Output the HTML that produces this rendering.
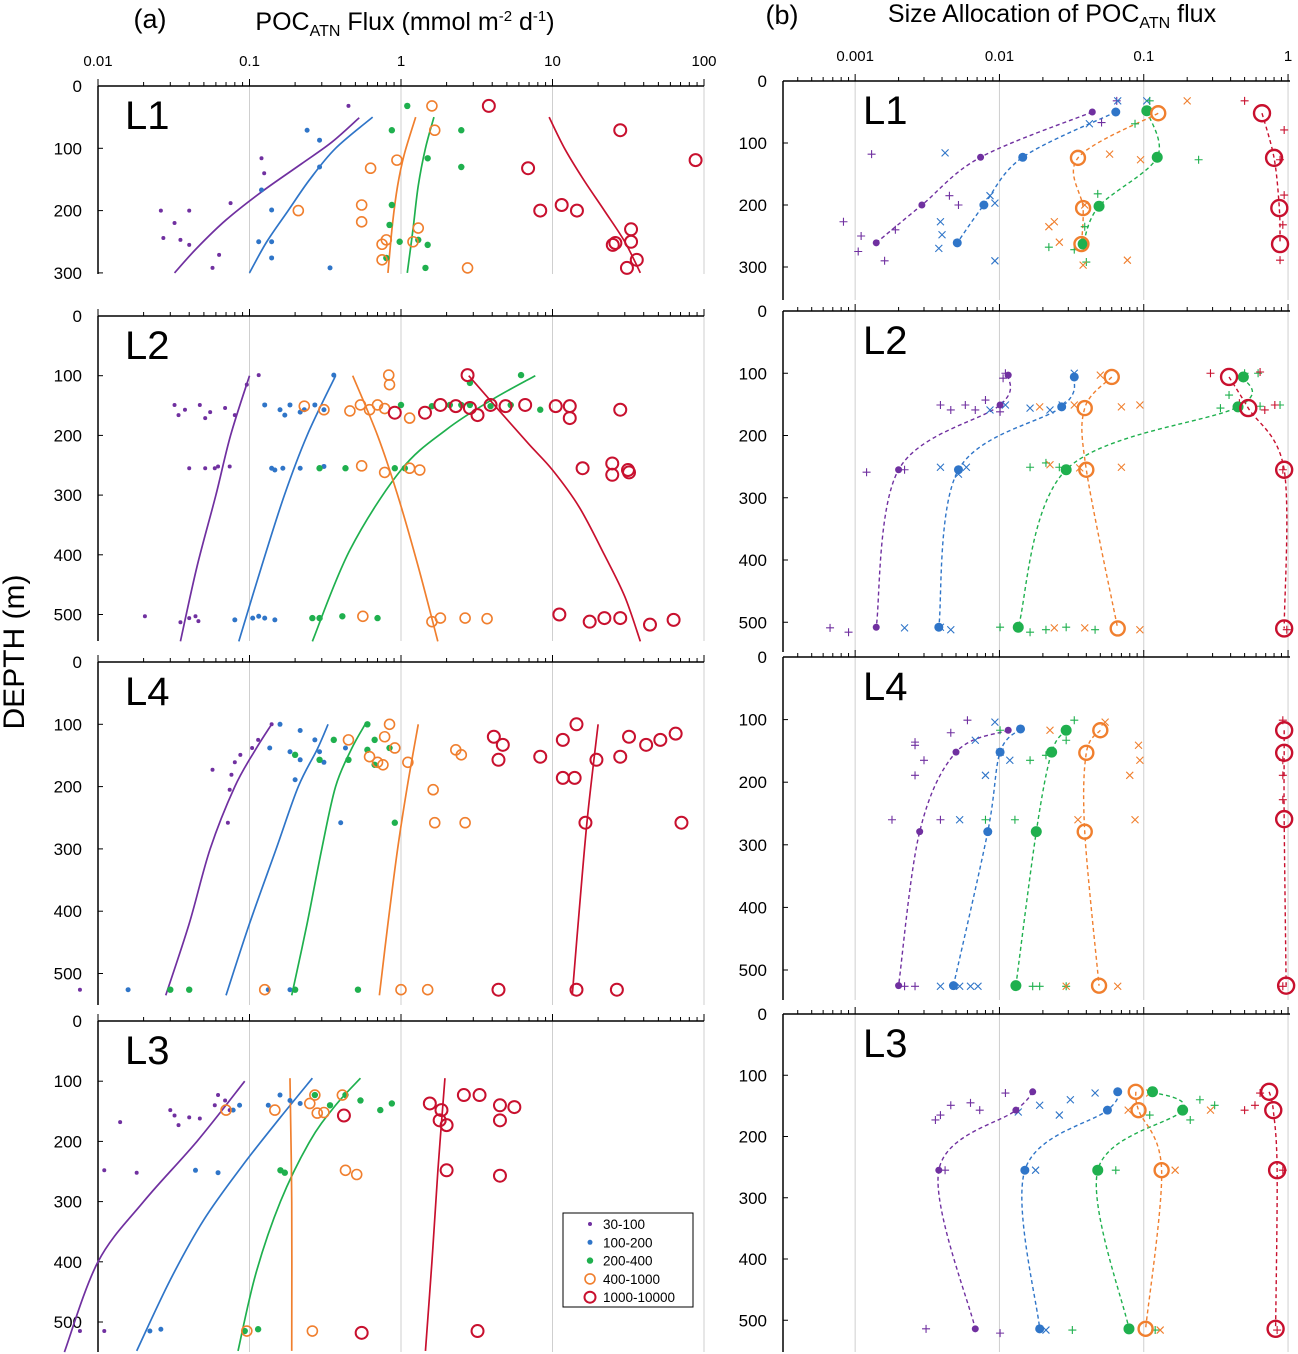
<!DOCTYPE html>
<html><head><meta charset="utf-8">
<style>
html,body{margin:0;padding:0;background:#fff;}
svg{display:block;font-family:"Liberation Sans",sans-serif;}
</style></head>
<body>
<svg id="chart" width="1298" height="1354" viewBox="0 0 1298 1354" xmlns="http://www.w3.org/2000/svg">
<text x="150" y="28" font-size="27" text-anchor="middle">(a)</text>
<text x="405" y="30" font-size="25" text-anchor="middle">POC<tspan font-size="16" dy="6">ATN</tspan><tspan dy="-6"> Flux (mmol m</tspan><tspan font-size="15" dy="-9">-2</tspan><tspan dy="9"> d</tspan><tspan font-size="15" dy="-9">-1</tspan><tspan dy="9">)</tspan></text>
<text x="782" y="24" font-size="27" text-anchor="middle">(b)</text>
<text x="1052" y="22" font-size="25" text-anchor="middle">Size Allocation of POC<tspan font-size="16" dy="6">ATN</tspan><tspan dy="-6"> flux</tspan></text>
<text transform="translate(24,652) rotate(-90)" font-size="30" text-anchor="middle">DEPTH (m)</text>
</svg>
<script>
// ---------- data: left (a) panels, [classIndex, flux, depth] ----------
const aL1Pts=[[0,0.45,32],[0,0.12,116],[0,0.125,140],[0,0.026,200],[0,0.04,200],[0,0.075,188],[0,0.032,220],[0,0.027,244],[0,0.035,247],[0,0.04,255],[0,0.063,271],[0,0.057,292],
[1,0.24,71],[1,0.29,87],[1,0.29,130],[1,0.12,167],[1,0.14,199],[1,0.115,250],[1,0.14,250],[1,0.14,276],[1,0.34,292],
[2,1.1,32],[2,0.87,71],[2,2.5,71],[2,1.5,116],[2,2.5,130],[2,0.87,191],[2,0.84,223],[2,0.98,250],[2,1.3,247],[2,1.5,255],[2,0.8,276],[2,1.45,292],
[3,1.6,32],[3,1.67,71],[3,0.94,119],[3,0.63,132],[3,0.21,200],[3,0.55,191],[3,0.55,218],[3,1.3,228],[3,0.8,247],[3,0.75,254],[3,1.2,250],[3,0.75,279],[3,2.75,292],
[4,3.8,32],[4,28,71],[4,88,119],[4,6.9,132],[4,8.3,200],[4,11.5,191],[4,14.5,200],[4,33,230],[4,26,252],[4,33,250],[4,36,279],[4,31,292],[4,25,255]];
const aL1Fits=[[[0.032,300],[0.045,260],[0.07,215],[0.12,170],[0.22,125],[0.35,90],[0.53,51]],
[[0.1,300],[0.13,250],[0.18,200],[0.25,150],[0.37,100],[0.65,50]],
[[1.1,300],[1.2,230],[1.3,160],[1.45,100],[1.65,50]],
[[0.82,300],[0.88,220],[0.95,160],[1.05,110],[1.25,50]],
[[38,300],[30,250],[22,200],[16,150],[12,100],[9.5,50]]];
const aL2Pts=[[0,0.115,99],[0,0.096,115],[0,0.032,149],[0,0.0375,157],[0,0.047,149],[0,0.055,161],[0,0.069,154],[0,0.08,166],[0,0.034,166],[0,0.051,171],[0,0.04,255],[0,0.051,255],[0,0.059,255],[0,0.074,252],[0,0.062,252],[0,0.0204,503],[0,0.04,506],[0,0.044,503],[0,0.035,513],[0,0.046,511],
[1,0.36,99],[1,0.126,149],[1,0.159,157],[1,0.185,149],[1,0.23,157],[1,0.27,149],[1,0.31,157],[1,0.171,166],[1,0.216,161],[1,0.14,255],[1,0.166,255],[1,0.216,255],[1,0.31,252],[1,0.147,258],[1,0.08,509],[1,0.105,506],[1,0.115,503],[1,0.126,506],[1,0.147,509],
[2,6.2,99],[2,2.85,112],[2,1.0,149],[2,1.6,151],[2,2.1,149],[2,2.85,149],[2,3.9,151],[2,5.3,149],[2,8.3,157],[2,2.5,149],[2,0.29,255],[2,0.43,255],[2,0.91,255],[2,1.06,255],[2,0.26,506],[2,0.29,506],[2,0.41,503],[2,0.7,506],
[3,0.83,99],[3,0.84,115],[3,0.23,151],[3,0.31,157],[3,0.46,159],[3,0.54,149],[3,0.62,157],[3,0.7,149],[3,0.78,155],[3,1.14,171],[3,0.55,251],[3,0.78,262],[3,1.14,255],[3,1.33,258],[3,0.56,503],[3,1.6,512],[3,1.82,506],[3,2.65,506],[3,3.7,507],
[4,2.75,99],[4,0.91,162],[4,1.44,162],[4,1.82,149],[4,2.3,151],[4,2.85,154],[4,3.9,149],[4,4.9,151],[4,6.6,149],[4,10.5,151],[4,13,151],[4,28,157],[4,13,171],[4,3.2,166],[4,15.8,255],[4,24.8,247],[4,31.5,258],[4,32,262],[4,24.8,266],[4,11.1,500],[4,17.6,512],[4,22,506],[4,28,506],[4,44,517],[4,63,509]];
const aL2Fits=[[[0.035,545],[0.045,420],[0.06,300],[0.075,200],[0.1,100]],
[[0.085,545],[0.12,420],[0.17,300],[0.24,200],[0.37,100]],
[[0.26,545],[0.46,392],[1.0,258],[2.0,190],[4.0,140],[7.7,100]],
[[1.75,545],[1.3,420],[0.95,300],[0.7,200],[0.48,100]],
[[38,545],[30,470],[22,400],[15,320],[10,258],[7,215],[4.5,160],[2.8,100]]];
const aL4Pts=[[0,0.14,100],[0,0.114,125],[0,0.104,138],[0,0.087,149],[0,0.08,161],[0,0.057,173],[0,0.076,181],[0,0.074,205],[0,0.072,258],[0,0.0076,526],
[1,0.159,100],[1,0.216,110],[1,0.27,125],[1,0.136,138],[1,0.185,144],[1,0.29,144],[1,0.43,138],[1,0.216,157],[1,0.31,161],[1,0.2,189],[1,0.4,258],[1,0.0158,526],[1,0.133,526],[1,0.185,526],
[2,0.6,100],[2,0.36,125],[2,0.67,125],[2,0.2,149],[2,0.29,157],[2,0.45,157],[2,0.6,141],[2,0.84,138],[2,0.67,165],[2,0.91,258],[2,0.03,526],[2,0.04,526],[2,0.2,526],[2,0.52,526],
[3,0.84,100],[3,0.78,120],[3,0.45,125],[3,0.91,138],[3,0.62,152],[3,0.7,161],[3,0.76,165],[3,1.11,161],[3,1.63,205],[3,1.67,258],[3,2.65,258],[3,2.3,141],[3,2.5,149],[3,0.126,526],[3,1.0,526],[3,1.5,526],
[4,14.4,100],[4,4.1,120],[4,4.7,133],[4,4.4,157],[4,8.3,152],[4,11.7,125],[4,32,120],[4,41.5,133],[4,51.5,125],[4,65,115],[4,11.7,186],[4,28,152],[4,14,186],[4,19.5,157],[4,16.5,258],[4,71,258],[4,4.4,526],[4,14.4,526],[4,26.6,526]];
const aL4Fits=[[[0.028,535],[0.04,420],[0.055,300],[0.08,200],[0.11,140],[0.14,100]],
[[0.07,535],[0.1,420],[0.15,300],[0.21,200],[0.28,140],[0.33,100]],
[[0.19,535],[0.24,420],[0.3,300],[0.37,200],[0.47,140],[0.58,100]],
[[0.72,535],[0.82,420],[0.95,300],[1.1,200],[1.3,100]],
[[13.5,535],[15,400],[17,250],[20,100]]];
const aL3Pts=[[0,0.062,123],[0,0.03,148],[0,0.032,157],[0,0.04,160],[0,0.034,173],[0,0.014,168],[0,0.059,140],[0,0.069,132],[0,0.074,148],[0,0.047,162],[0,0.011,248],[0,0.018,252],[0,0.0076,515],[0,0.011,515],
[1,0.078,148],[1,0.086,140],[1,0.133,140],[1,0.159,123],[1,0.185,132],[1,0.216,137],[1,0.044,248],[1,0.062,252],[1,0.022,515],[1,0.026,512],
[2,0.27,123],[2,0.43,123],[2,0.73,148],[2,0.54,132],[2,0.34,140],[2,0.171,252],[2,0.16,248],[2,0.87,137],[2,0.093,515],[2,0.114,512],
[3,0.07,148],[3,0.147,148],[3,0.25,137],[3,0.28,153],[3,0.31,152],[3,0.41,123],[3,0.27,123],[3,0.43,248],[3,0.51,255],[3,0.096,515],[3,0.26,515],
[4,1.55,137],[4,1.85,148],[4,1.8,165],[4,2.0,173],[4,2.6,123],[4,3.3,123],[4,4.5,140],[4,5.6,143],[4,4.5,165],[4,0.42,157],[4,2.0,248],[4,4.5,257],[4,0.55,518],[4,3.2,515]];
const aL3Fits=[[[0.006,550],[0.01,400],[0.02,300],[0.045,200],[0.093,100]],
[[0.018,548],[0.03,430],[0.05,330],[0.09,240],[0.16,160],[0.26,95]],
[[0.084,548],[0.11,420],[0.16,300],[0.25,200],[0.37,140],[0.54,95]],
[[0.19,548],[0.19,300],[0.185,95]],
[[1.45,548],[1.6,400],[1.75,250],[1.95,95]]];
// ---------- data: right (b) panels ----------
const bL1Means=[[0,0.044,50],[0,0.0074,123],[0,0.0029,200],[0,0.0014,261],
[1,0.064,50],[1,0.0145,123],[1,0.0078,200],[1,0.0051,261],
[2,0.105,48],[2,0.124,123],[2,0.049,202],[2,0.038,263],
[3,0.126,52],[3,0.035,124],[3,0.038,205],[3,0.037,263],
[4,0.66,52],[4,0.8,124],[4,0.87,205],[4,0.88,263]];
const bL1Pts=[[0,0.0013,118],[0,0.00083,227],[0,0.0011,250],[0,0.00105,275],[0,0.0016,290],[0,0.0019,240],[0,0.0045,185],[0,0.0052,200],[0,0.065,32],[0,0.051,67],
[1,0.066,32],[1,0.042,69],[1,0.0042,116],[1,0.0039,227],[1,0.004,248],[1,0.0038,270],[1,0.0093,197],[1,0.0086,185],[1,0.0093,290],[1,0.105,32],
[2,0.11,32],[2,0.087,69],[2,0.24,127],[2,0.048,182],[2,0.039,235],[2,0.033,272],[2,0.04,292],[2,0.022,268],
[3,0.2,32],[3,0.058,118],[3,0.095,127],[3,0.039,200],[3,0.022,235],[3,0.026,260],[3,0.077,289],[3,0.038,297],[3,0.024,227],
[4,0.5,32],[4,0.94,79],[4,0.88,127],[4,0.94,184],[4,0.92,232],[4,0.88,289]];
const bL2Means=[[0,0.0115,103],[0,0.0101,151],[0,0.002,255],[0,0.0014,508],
[1,0.033,106],[1,0.027,154],[1,0.0052,255],[1,0.0038,508],
[2,0.49,106],[2,0.45,154],[2,0.029,255],[2,0.0135,508],
[3,0.06,106],[3,0.039,156],[3,0.04,255],[3,0.066,510],
[4,0.39,106],[4,0.53,156],[4,0.94,255],[4,0.94,510]];
const bL2Pts=[[0,0.011,100],[0,0.0106,108],[0,0.0039,151],[0,0.0046,159],[0,0.0058,151],[0,0.0068,159],[0,0.008,143],[0,0.0101,162],[0,0.0012,259],[0,0.0022,255],[0,0.00067,509],[0,0.0009,516],
[1,0.033,100],[1,0.0163,156],[1,0.0224,159],[1,0.0272,151],[1,0.011,151],[1,0.0086,159],[1,0.0039,251],[1,0.0059,251],[1,0.0052,262],[1,0.0022,509],[1,0.0039,508],[1,0.0046,512],
[2,0.5,100],[2,0.62,100],[2,0.34,156],[2,0.64,153],[2,0.88,151],[2,0.39,135],[2,0.0163,251],[2,0.021,244],[2,0.026,251],[2,0.0101,508],[2,0.0163,516],[2,0.021,512],[2,0.029,508],[2,0.046,512],
[3,0.05,103],[3,0.07,154],[3,0.033,151],[3,0.019,154],[3,0.094,151],[3,0.0224,247],[3,0.036,252],[3,0.07,251],[3,0.024,509],[3,0.039,509],[3,0.094,512],
[4,0.29,100],[4,0.64,98],[4,0.69,159],[4,0.81,151],[4,0.46,148],[4,0.92,255],[4,0.98,512]];
const bL4Means=[[0,0.0115,117],[0,0.005,152],[0,0.0028,279],[0,0.002,525],
[1,0.014,115],[1,0.0101,152],[1,0.0083,279],[1,0.0048,525],
[2,0.029,117],[2,0.023,152],[2,0.018,279],[2,0.013,525],
[3,0.05,117],[3,0.04,153],[3,0.039,279],[3,0.049,525],
[4,0.94,117],[4,0.94,153],[4,0.94,259],[4,0.97,525]];
const bL4Pts=[[0,0.006,101],[0,0.0046,121],[0,0.0026,136],[0,0.0026,141],[0,0.003,165],[0,0.0026,189],[0,0.0018,260],[0,0.0039,260],[0,0.0022,526],[0,0.0026,526],
[1,0.0093,104],[1,0.0068,133],[1,0.0101,152],[1,0.008,189],[1,0.0053,260],[1,0.0118,165],[1,0.0039,526],[1,0.0053,526],[1,0.0063,526],[1,0.0071,526],
[2,0.033,101],[2,0.029,133],[2,0.021,157],[2,0.0163,165],[2,0.0101,117],[2,0.0128,260],[2,0.008,260],[2,0.017,526],[2,0.019,526],[2,0.029,526],
[3,0.0224,117],[3,0.054,104],[3,0.092,141],[3,0.094,165],[3,0.08,189],[3,0.035,260],[3,0.087,260],[3,0.029,526],[3,0.066,526],
[4,0.92,101],[4,0.92,165],[4,0.92,189],[4,0.92,228],[4,0.92,526]];
const bL3Means=[[0,0.017,127],[0,0.013,157],[0,0.0038,255],[0,0.0068,514],
[1,0.066,127],[1,0.056,157],[1,0.015,255],[1,0.019,514],
[2,0.115,127],[2,0.186,157],[2,0.048,255],[2,0.079,514],
[3,0.088,127],[3,0.092,157],[3,0.133,255],[3,0.103,514],
[4,0.74,127],[4,0.79,157],[4,0.84,255],[4,0.82,514]];
const bL3Pts=[[0,0.011,129],[0,0.0063,145],[0,0.0046,149],[0,0.0073,157],[0,0.0039,165],[0,0.0036,173],[0,0.0042,255],[0,0.0031,514],[0,0.0101,521],
[1,0.046,129],[1,0.031,140],[1,0.019,149],[1,0.026,165],[1,0.0135,160],[1,0.0178,255],[1,0.021,516],
[2,0.245,140],[2,0.31,149],[2,0.21,173],[2,0.11,165],[2,0.064,255],[2,0.032,516],[2,0.12,516],
[3,0.11,129],[3,0.078,157],[3,0.29,157],[3,0.165,255],[3,0.13,516],
[4,0.5,157],[4,0.59,149],[4,0.64,129],[4,0.92,255],[4,0.84,516]];
const classNames=['30-100','100-200','200-400','400-1000','1000-10000'];
const xTicksA=[0.01,0.1,1,10,100];
const xTickLabelsA=['0.01','0.1','1','10','100'];
const xTicksB=[0.001,0.01,0.1,1];
const xTickLabelsB=['0.001','0.01','0.1','1'];

// ---------- rendering ----------
const NS='http://www.w3.org/2000/svg';
const svg=document.getElementById('chart');
const COL=['#7030a0','#2f75c8','#1fb04e','#f07f2e','#c8102e'];
const CK=['purple','blue','green','orange','red'];
function mk(tag,attrs,parent){const e=document.createElementNS(NS,tag);for(const k in attrs)e.setAttribute(k,attrs[k]);(parent||svg).appendChild(e);return e;}
function smooth(pts){if(pts.length<2)return '';let d='M'+pts[0][0]+','+pts[0][1];
 for(let i=0;i<pts.length-1;i++){const p0=pts[i-1]||pts[i],p1=pts[i],p2=pts[i+1],p3=pts[i+2]||p2;
  const c1=[p1[0]+(p2[0]-p0[0])/6,p1[1]+(p2[1]-p0[1])/6],c2=[p2[0]-(p3[0]-p1[0])/6,p2[1]-(p3[1]-p1[1])/6];
  d+=' C'+c1[0]+','+c1[1]+' '+c2[0]+','+c2[1]+' '+p2[0]+','+p2[1];}return d;}

function panel(cfg){
 const g=mk('g',{});
 
 
 const X=v=>cfg.xL+(Math.log10(v)-cfg.lmin)*cfg.dec;
 const Y=d=>cfg.y0+d*cfg.sy;
 for(let e=Math.ceil(cfg.lmin);e<=cfg.lmax;e++){const x=X(Math.pow(10,e));
  const l=mk('line',{x1:x,x2:x,y1:cfg.y0,y2:cfg.yB,stroke:'#cfcfcf','stroke-width':1},g);
  
  }
 const ta=mk('line',{x1:cfg.xL,x2:cfg.xR,y1:cfg.y0,y2:cfg.y0,stroke:'#000','stroke-width':1.5},g);
 
 
 for(let e=Math.floor(cfg.lmin);e<cfg.lmax;e++){for(let m=1;m<10;m++){const v=m*Math.pow(10,e);const lv=Math.log10(v);if(lv<cfg.lmin-1e-9||lv>cfg.lmax+1e-9)continue;
   const x=X(v);mk('line',{x1:x,x2:x,y1:cfg.y0,y2:cfg.y0-(m===1?7:4),stroke:'#000','stroke-width':1},g);}}
 { const x=X(Math.pow(10,cfg.lmax));mk('line',{x1:x,x2:x,y1:cfg.y0,y2:cfg.y0-7,stroke:'#000','stroke-width':1},g);}
 if(cfg.xlabels){cfg.xticks.forEach((v,i)=>{const t=mk('text',{x:X(v),y:cfg.y0-20,'font-size':15,'text-anchor':'middle'},g);t.textContent=cfg.xlabels[i];
   
   });}
 const la=mk('line',{x1:cfg.xL,x2:cfg.xL,y1:cfg.y0,y2:cfg.yB,stroke:'#000','stroke-width':1.5},g);
 
 
 cfg.yticks.forEach(d=>{const y=Y(d);mk('line',{x1:cfg.xL,x2:cfg.xL+5,y1:y,y2:y,stroke:'#000','stroke-width':1},g);
  const t=mk('text',{x:cfg.xL-16,y:y+6,'font-size':17,'text-anchor':'end'},g);t.textContent=String(d);
  
  });
 const pl=mk('text',{x:cfg.xL+cfg.labOff,y:cfg.y0+43,'font-size':cfg.big},g);pl.textContent=cfg.title;
 
 
 return {g,X,Y};
}

function leftPanel(cfg,pts,fits){
 const {g,X,Y}=panel(cfg);
 fits.forEach((f,c)=>{const p=mk('path',{d:smooth(f.map(q=>[X(q[0]),Y(q[1])])),fill:'none',stroke:COL[c],'stroke-width':1.7},g);
  
  });
 pts.forEach(q=>{const c=q[0],x=X(q[1]),y=Y(q[2]);let e;
  if(c<3)e=mk('circle',{cx:x,cy:y,r:[2,2.5,3.2][c],fill:COL[c]},g);
  else e=mk('circle',{cx:x,cy:y,r:c===3?5:6,fill:'none',stroke:COL[c],'stroke-width':c===3?1.6:2},g);
  
  });
}
function rightPanel(cfg,means,pts){
 const {g,X,Y}=panel(cfg);
 for(let c=0;c<5;c++){const m=means.filter(q=>q[0]===c).sort((a,b)=>a[2]-b[2]);
  const p=mk('path',{d:smooth(m.map(q=>[X(q[1]),Y(q[2])])),fill:'none',stroke:COL[c],'stroke-width':1.4,'stroke-dasharray':'4,3'},g);
  
  }
 pts.forEach(q=>{const c=q[0],x=X(q[1]),y=Y(q[2]),s=3.5;let d;
  if(c===1||c===3)d=`M${x-s},${y-s}L${x+s},${y+s}M${x-s},${y+s}L${x+s},${y-s}`;
  else d=`M${x-s-0.5},${y}L${x+s+0.5},${y}M${x},${y-s-0.5}L${x},${y+s+0.5}`;
  const e=mk('path',{d,stroke:COL[c],'stroke-width':1.1,fill:'none'},g);
  
  });
 means.forEach(q=>{const c=q[0],x=X(q[1]),y=Y(q[2]);let e;
  if(c<3)e=mk('circle',{cx:x,cy:y,r:[3.5,4.5,5.5][c],fill:COL[c]},g);
  else e=mk('circle',{cx:x,cy:y,r:c===3?7:8,fill:'none',stroke:COL[c],'stroke-width':2.4},g);
  
  });
}
const A={xL:98,xR:704,lmin:-2,lmax:2,dec:151.5,big:40,labOff:27};
const B={xL:783,xR:1290,lmin:-3.5,lmax:0,dec:144.3,big:40,labOff:80};
leftPanel(Object.assign({},A,{name:'panel-a-L1',title:'L1',y0:86,sy:0.623,yB:274,yticks:[0,100,200,300],xticks:xTicksA,xlabels:xTickLabelsA}),aL1Pts,aL1Fits);
leftPanel(Object.assign({},A,{name:'panel-a-L2',title:'L2',y0:316,sy:0.597,yB:641,yticks:[0,100,200,300,400,500]}),aL2Pts,aL2Fits);
leftPanel(Object.assign({},A,{name:'panel-a-L4',title:'L4',y0:662,sy:0.623,yB:1005,yticks:[0,100,200,300,400,500]}),aL4Pts,aL4Fits);
leftPanel(Object.assign({},A,{name:'panel-a-L3',title:'L3',y0:1021,sy:0.602,yB:1352,yticks:[0,100,200,300,400,500]}),aL3Pts,aL3Fits);
rightPanel(Object.assign({},B,{name:'panel-b-L1',title:'L1',y0:81,sy:0.62,yB:300,yticks:[0,100,200,300],xticks:xTicksB,xlabels:xTickLabelsB}),bL1Means,bL1Pts);
rightPanel(Object.assign({},B,{name:'panel-b-L2',title:'L2',y0:311,sy:0.6225,yB:652,yticks:[0,100,200,300,400,500]}),bL2Means,bL2Pts);
rightPanel(Object.assign({},B,{name:'panel-b-L4',title:'L4',y0:657,sy:0.626,yB:1000,yticks:[0,100,200,300,400,500]}),bL4Means,bL4Pts);
rightPanel(Object.assign({},B,{name:'panel-b-L3',title:'L3',y0:1014,sy:0.6125,yB:1352,yticks:[0,100,200,300,400,500]}),bL3Means,bL3Pts);

const lg=mk('g',{});


mk('rect',{x:563,y:1213,width:130,height:94,fill:'#fff',stroke:'#000','stroke-width':1},lg);
classNames.forEach((n,c)=>{const y=1224+c*18.3;let e;
 if(c<3)e=mk('circle',{cx:590,cy:y,r:[2,2.5,3.2][c],fill:COL[c]},lg);
 else e=mk('circle',{cx:590,cy:y,r:c===3?5:5.5,fill:'none',stroke:COL[c],'stroke-width':c===3?1.6:2},lg);
 
 
 const t=mk('text',{x:603,y:y+5,'font-size':13.5},lg);t.textContent=n;
 
 });
</script>
</body></html>
